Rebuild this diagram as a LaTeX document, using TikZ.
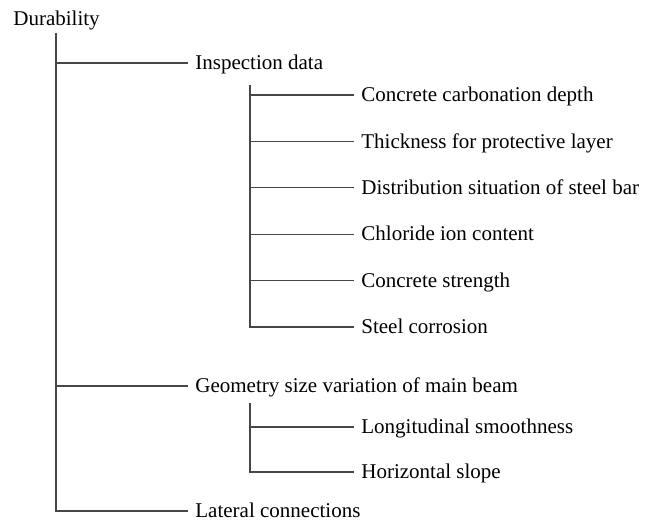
\documentclass[tikz,border=0pt]{standalone}
\usepackage{fontspec}
\setmainfont{Liberation Serif}
\usetikzlibrary{positioning}

\begin{document}
\begin{tikzpicture}[
  x=0.5pt, y=-0.5pt,
  item/.style={anchor=west, inner sep=3.5pt, text height=0.9em, text depth=0.24em},
  link/.style={draw, line width=0.65pt, black!72},
  font=\fontsize{10.5}{12.6}\selectfont
]
\useasboundingbox (0,0) rectangle (657,519);

% Root
\node[anchor=base west, inner sep=0pt] (dur) at (13,26) {Durability};
\coordinate (t1) at (56,33);

% First level
\node[item] (insp) at (188,63) {Inspection data};
\node[item] (geo) at (188,386) {Geometry size variation of main beam};
\node[item] (lat) at (188,511) {Lateral connections};

\draw[link] (t1) |- (lat.west);
\draw[link] (t1 |- insp.west) -- (insp.west);
\draw[link] (t1 |- geo.west) -- (geo.west);

% Inspection data items
\coordinate (t2) at (250,85);
\foreach \txt [count=\i] in {Concrete carbonation depth, Thickness for protective layer,
  Distribution situation of steel bar, Chloride ion content, Concrete strength, Steel corrosion}
  \node[item] (ins\i) at (354,{95+46.4*(\i-1)}) {\txt};

\draw[link] (t2) |- (ins6.west);
\foreach \i in {1,...,5}
  \draw[link] (t2 |- ins\i.west) -- (ins\i.west);

% Geometry items
\coordinate (t3) at (250,403);
\node[item] (lon) at (354,427) {Longitudinal smoothness};
\node[item] (hor) at (354,472) {Horizontal slope};

\draw[link] (t3) |- (hor.west);
\draw[link] (t3 |- lon.west) -- (lon.west);

\end{tikzpicture}
\end{document}
